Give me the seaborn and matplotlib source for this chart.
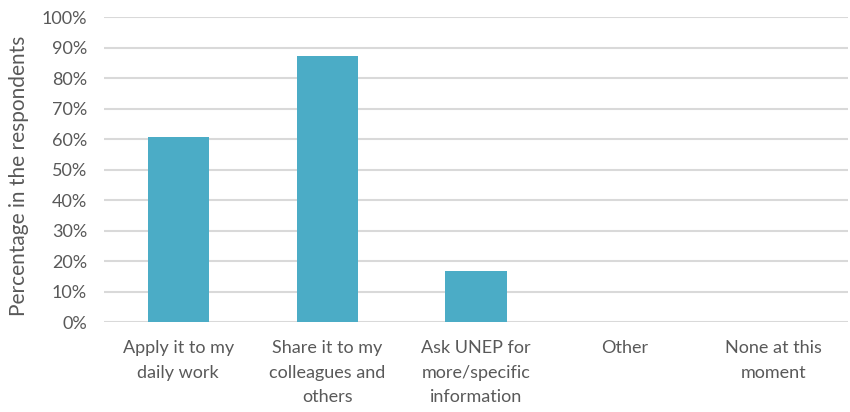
import matplotlib
matplotlib.use("Agg")
import matplotlib.pyplot as plt
import seaborn as sns
import pandas as pd

categories = [
    "Apply it to my\ndaily work",
    "Share it to my\ncolleagues and\nothers",
    "Ask UNEP for\nmore/specific\ninformation",
    "Other",
    "None at this\nmoment",
]
values = [60.5, 87.3, 16.8, 0.0, 0.0]
y_ticks = list(range(0, 101, 10))

df = pd.DataFrame({"category": categories, "value": values})

sns.set_theme(style="white")
plt.rcParams["font.family"] = ["Lato", "DejaVu Sans"]

fig = plt.figure(figsize=(8.5, 4.12), dpi=100)
ax = fig.add_axes([0.122, 0.2184, 0.876, 0.7403])

sns.barplot(data=df, x="category", y="value", color="#4BACC6", saturation=1,
            width=0.41, linewidth=0, ax=ax)

ax.set_ylim(0, 100)
ax.set_yticks(y_ticks)
ax.set_yticklabels([f"{t}%" for t in y_ticks], fontsize=13)
ax.set_xticks(range(len(categories)))
ax.set_xticklabels(categories, fontsize=13, linespacing=1.65)
ax.yaxis.grid(True, color="#D9D9D9", linewidth=1.5)
ax.set_axisbelow(True)
for s in ax.spines.values():
    s.set_visible(False)
ax.tick_params(axis="both", length=0, colors="#595959")
ax.tick_params(axis="x", pad=13)
ax.tick_params(axis="y", pad=12)
ax.set_xlabel("")
ax.set_ylabel("Percentage in the respondents", color="#595959", fontsize=15)
ax.yaxis.set_label_coords(-0.1, 0.48)

fig.savefig("out.png", dpi=100)
